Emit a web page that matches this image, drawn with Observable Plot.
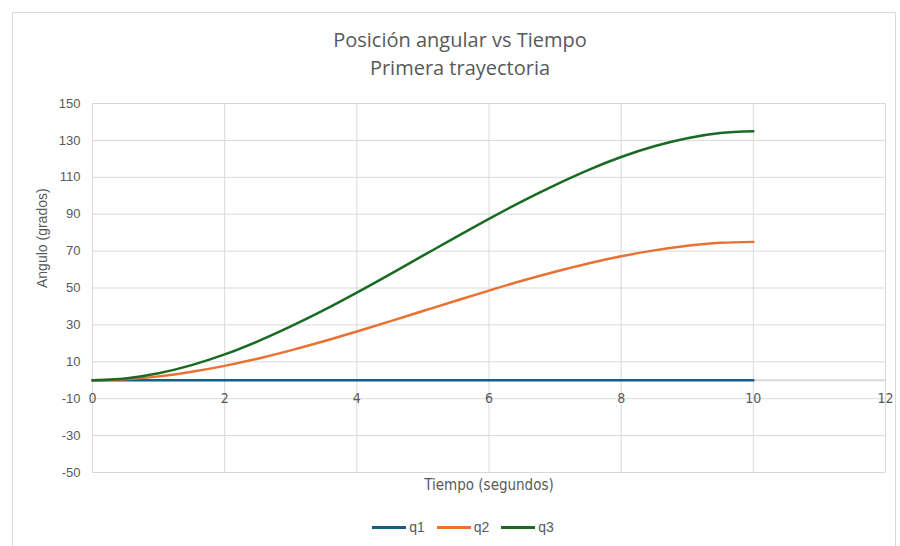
<!DOCTYPE html>
<html>
<head>
<meta charset="utf-8">
<script src="https://cdn.jsdelivr.net/npm/d3@7"></script>
<script src="https://cdn.jsdelivr.net/npm/@observablehq/plot@0.6"></script>
<style>
  html, body { margin: 0; padding: 0; background: #fff; }
  #page { position: relative; width: 900px; height: 546px; overflow: hidden; }
  #frame { position: absolute; left: 12px; top: 12px; width: 884px; height: 560px; border: 1px solid #d9d9d9; box-sizing: border-box; }
  #title { position: absolute; left: 0; top: 26px; width: 920px; text-align: center; font-family: "Open Sans", "Noto Sans", sans-serif; font-size: 20px; line-height: 28px; color: #595959; }
  #chart { position: absolute; left: 0; top: 90px; }
  #legend { position: absolute; left: 0; top: 519px; width: 926px; display: flex; justify-content: center; gap: 12px; font-family: "Liberation Sans", Arial, sans-serif; font-size: 14px; color: #595959; }
  #legend span.item { display: flex; align-items: center; gap: 3px; }
  #legend span.sw { display: inline-block; width: 34px; height: 3px; }
</style>
</head>
<body>
<div id="page">
  <div id="frame"></div>
  <div id="title">Posición angular vs Tiempo<br>Primera trayectoria</div>
  <div id="chart"></div>
  <div id="legend"></div>
</div>
<script>
// Time samples (s) and joint angles (degrees)
const tiempo = [0, 0.5, 1, 1.5, 2, 2.5, 3, 3.5, 4, 4.5, 5, 5.5, 6, 6.5, 7, 7.5, 8, 8.5, 9, 9.5, 10];
const q1 = [0, 0, 0, 0, 0, 0, 0, 0, 0, 0, 0, 0, 0, 0, 0, 0, 0, 0, 0, 0, 0];
const q2 = [0, 0.5, 2.1, 4.6, 7.8, 11.7, 16.2, 21.1, 26.4, 31.9, 37.5, 43.1, 48.6, 53.9, 58.8, 63.3, 67.2, 70.4, 72.9, 74.5, 75];
const q3 = [0, 1.0, 3.8, 8.2, 14.0, 21.1, 29.2, 38.0, 47.5, 57.4, 67.5, 77.6, 87.5, 97.0, 105.8, 113.9, 121.0, 126.8, 131.2, 134.0, 135];

const seriesNames = ["q1", "q2", "q3"];
const seriesColors = ["#156082", "#E97132", "#196B24"];
const xTicks = [0, 2, 4, 6, 8, 10, 12];
const yTicks = [-50, -30, -10, 10, 30, 50, 70, 90, 110, 130, 150];

const rows = [];
[q1, q2, q3].forEach((vals, i) => {
  vals.forEach((v, j) => rows.push({ serie: seriesNames[i], t: tiempo[j], ang: v }));
});

const grey = "#595959";
const narrow = "Liberation Sans Narrow, DejaVu Sans Condensed, sans-serif";
const chart = Plot.plot({
  width: 900,
  height: 420,
  marginLeft: 92,
  marginRight: 15,
  marginTop: 13,
  marginBottom: 38,
  style: { fontFamily: "Liberation Sans, Arial, sans-serif", fontSize: "13px", color: grey, background: "transparent" },
  x: { domain: [0, 12], axis: null },
  y: { domain: [-50, 150] },
  color: { domain: seriesNames, range: seriesColors },
  marks: [
    Plot.gridY(yTicks, { stroke: "#d9d9d9", strokeOpacity: 1, strokeWidth: 1 }),
    Plot.gridX(xTicks, { stroke: "#d9d9d9", strokeOpacity: 1, strokeWidth: 1 }),
    Plot.ruleY([0], { stroke: "#d9d9d9", strokeWidth: 2 }),
    Plot.axisY(yTicks, { tickSize: 0, tickPadding: 12, label: null, fontSize: 13, fill: grey, tickFormat: d => String(d) }),
    Plot.text(xTicks, { x: d => d, y: () => 0, dy: 18, text: d => String(d), fill: grey, fontSize: 14, fontFamily: narrow }),
    Plot.line(rows, { x: "t", y: "ang", z: "serie", stroke: "serie", strokeWidth: 2.5, curve: "monotone-x" }),
    Plot.text(["Angulo (grados)"], { frameAnchor: "left", rotate: -90, dx: -50, fill: grey, fontSize: 14 }),
    Plot.text(["Tiempo (segundos)"], { frameAnchor: "bottom", dy: 17, fill: grey, fontSize: 15, fontFamily: narrow })
  ]
});
document.getElementById("chart").appendChild(chart);

const legend = document.getElementById("legend");
seriesNames.forEach((name, i) => {
  const item = document.createElement("span");
  item.className = "item";
  item.innerHTML = `<span class="sw" style="background:${seriesColors[i]}"></span><span>${name}</span>`;
  legend.appendChild(item);
});
</script>
</body>
</html>
